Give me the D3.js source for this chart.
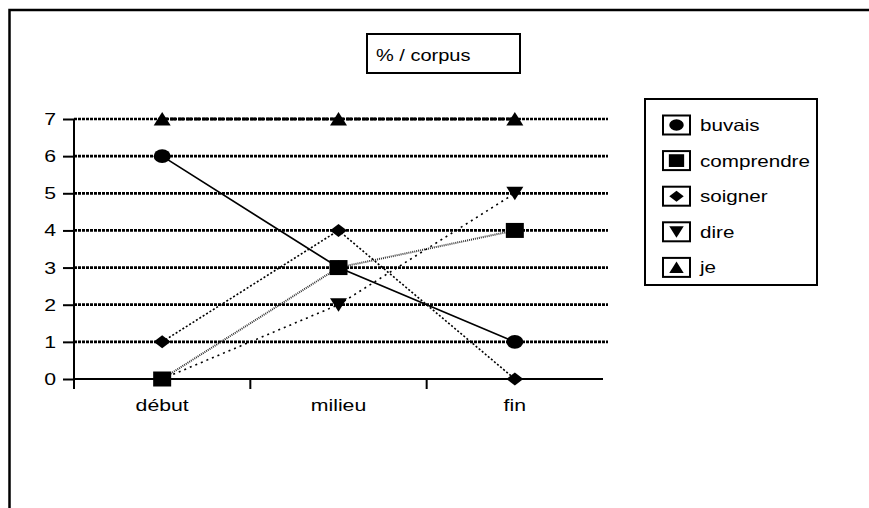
<!DOCTYPE html>
<html><head><meta charset="utf-8">
<script src="https://cdn.jsdelivr.net/npm/d3@7"></script>
<style>body{margin:0;background:#fff}svg{display:block}text{font-family:"Liberation Sans",Arial,sans-serif;fill:#000}</style>
</head><body><svg id="c" width="869" height="508"></svg>
<script>
const categories = ["début", "milieu", "fin"];
const yTicks = [0, 1, 2, 3, 4, 5, 6, 7];
const buvais = [6, 3, 1];
const comprendre = [0, 3, 4];
const soigner = [1, 4, 0];
const dire = [0, 2, 5];
const je = [7, 7, 7];
const seriesNames = ["buvais", "comprendre", "soigner", "dire", "je"];
const title = "% / corpus";

const series = [
  {name: "buvais", values: buvais, sym: "circle", dash: null, w: 1.7, color: "#000"},
  {name: "comprendre", values: comprendre, sym: "square", dash: "1,1", w: 2, color: "#333"},
  {name: "soigner", values: soigner, sym: "diamond", dash: "2,2", w: 1.6, color: "#000"},
  {name: "dire", values: dire, sym: "down", dash: "2,4", w: 1.6, color: "#000"},
  {name: "je", values: je, sym: "up", dash: "6,2", w: 2.8, color: "#000"}
];

const svg = d3.select("#c");
const SX = 1.25;
function stxt(g, x, y, s, anchor, size) {
  const t = g.append("text").attr("transform", `translate(${x},${y}) scale(${SX},1)`)
    .attr("font-size", size || 15).text(s);
  if (anchor) t.attr("text-anchor", anchor);
  return t;
}

// outer frame
svg.append("path").attr("d", "M9.5,510 V10 H870").attr("fill", "none").attr("stroke", "#000").attr("stroke-width", 2.5);

const x = d3.scaleBand().domain(categories).range([74, 603]);
const y = d3.scaleLinear().domain([0, 7]).range([379, 119]);

// gridlines
svg.append("g").selectAll("line").data(yTicks.filter(d => d > 0)).join("line")
  .attr("x1", 74).attr("x2", 608).attr("y1", d => y(d)).attr("y2", d => y(d))
  .attr("stroke", "#000").attr("stroke-width", 2.7).attr("stroke-dasharray", "3,1");

// y axis
const ya = svg.append("g").attr("transform", "translate(74,0)")
  .call(d3.axisLeft(y).tickValues(yTicks).tickSize(11).tickFormat(""));
ya.select(".domain").attr("d", `M0,${y(7)}V389`).attr("stroke-width", 2);
ya.selectAll(".tick line").attr("stroke-width", 2);
yTicks.forEach(v => stxt(svg, 56, y(v) + 6, String(v), "end", 17));

// x axis
const xa = svg.append("g").attr("transform", `translate(0,${y(0)})`);
xa.append("line").attr("x1", 74).attr("x2", 603).attr("stroke", "#000").attr("stroke-width", 2);
const bounds = categories.map(c => x(c)).concat([x(categories[categories.length - 1]) + x.bandwidth()]);
xa.selectAll("line.t").data(bounds.slice(1, 3)).join("line").attr("class", "t")
  .attr("x1", d => d).attr("x2", d => d).attr("y1", 0).attr("y2", 10).attr("stroke", "#000").attr("stroke-width", 2);
categories.forEach(c => stxt(xa, x(c) + x.bandwidth() / 2, 32, c, "middle", 17));

const cx = c => x(c) + x.bandwidth() / 2;

// symbols
function sym(g, type, px, py, s) {
  s = s || 1;
  if (type === "circle") g.append("ellipse").attr("cx", px).attr("cy", py).attr("rx", 8.5 * s).attr("ry", 6.8 * s);
  else if (type === "square") g.append("rect").attr("x", px - 9 * s).attr("y", py - 7.5 * s).attr("width", 18 * s).attr("height", 15 * s);
  else if (type === "diamond") g.append("path").attr("d", `M${px},${py - 6.5 * s}L${px + 8.5 * s},${py}L${px},${py + 6.5 * s}L${px - 8.5 * s},${py}Z`);
  else if (type === "down") g.append("path").attr("d", `M${px - 8.5 * s},${py - 6.5 * s}L${px + 8.5 * s},${py - 6.5 * s}L${px},${py + 7 * s}Z`);
  else if (type === "up") g.append("path").attr("d", `M${px - 8.5 * s},${py + 6.5 * s}L${px + 8.5 * s},${py + 6.5 * s}L${px},${py - 7 * s}Z`);
}

const line = d3.line().x((d, i) => cx(categories[i])).y(d => y(d));
series.forEach(s => {
  svg.append("path").attr("d", line(s.values)).attr("fill", "none")
    .attr("stroke", s.color).attr("stroke-width", s.w).attr("stroke-dasharray", s.dash);
});
series.forEach(s => {
  const g = svg.append("g").attr("fill", "#000");
  s.values.forEach((v, i) => sym(g, s.sym, cx(categories[i]), y(v)));
});

// title box
svg.append("rect").attr("x", 367).attr("y", 34).attr("width", 153).attr("height", 39)
  .attr("fill", "#fff").attr("stroke", "#000").attr("stroke-width", 2);
stxt(svg, 376, 61, title, null, 16);

// legend
svg.append("rect").attr("x", 645).attr("y", 99).attr("width", 172).attr("height", 186)
  .attr("fill", "#fff").attr("stroke", "#000").attr("stroke-width", 2);
series.forEach((s, i) => {
  const ry = 125 + i * 35.6;
  svg.append("rect").attr("x", 663).attr("y", ry - 9.5).attr("width", 27).attr("height", 19)
    .attr("fill", "#fff").attr("stroke", "#000").attr("stroke-width", 2);
  const g = svg.append("g").attr("fill", "#000");
  sym(g, s.sym, 676.5, ry, 0.85);
  stxt(svg, 700, ry + 6, seriesNames[i], null, 16.5);
});
</script></body></html>
